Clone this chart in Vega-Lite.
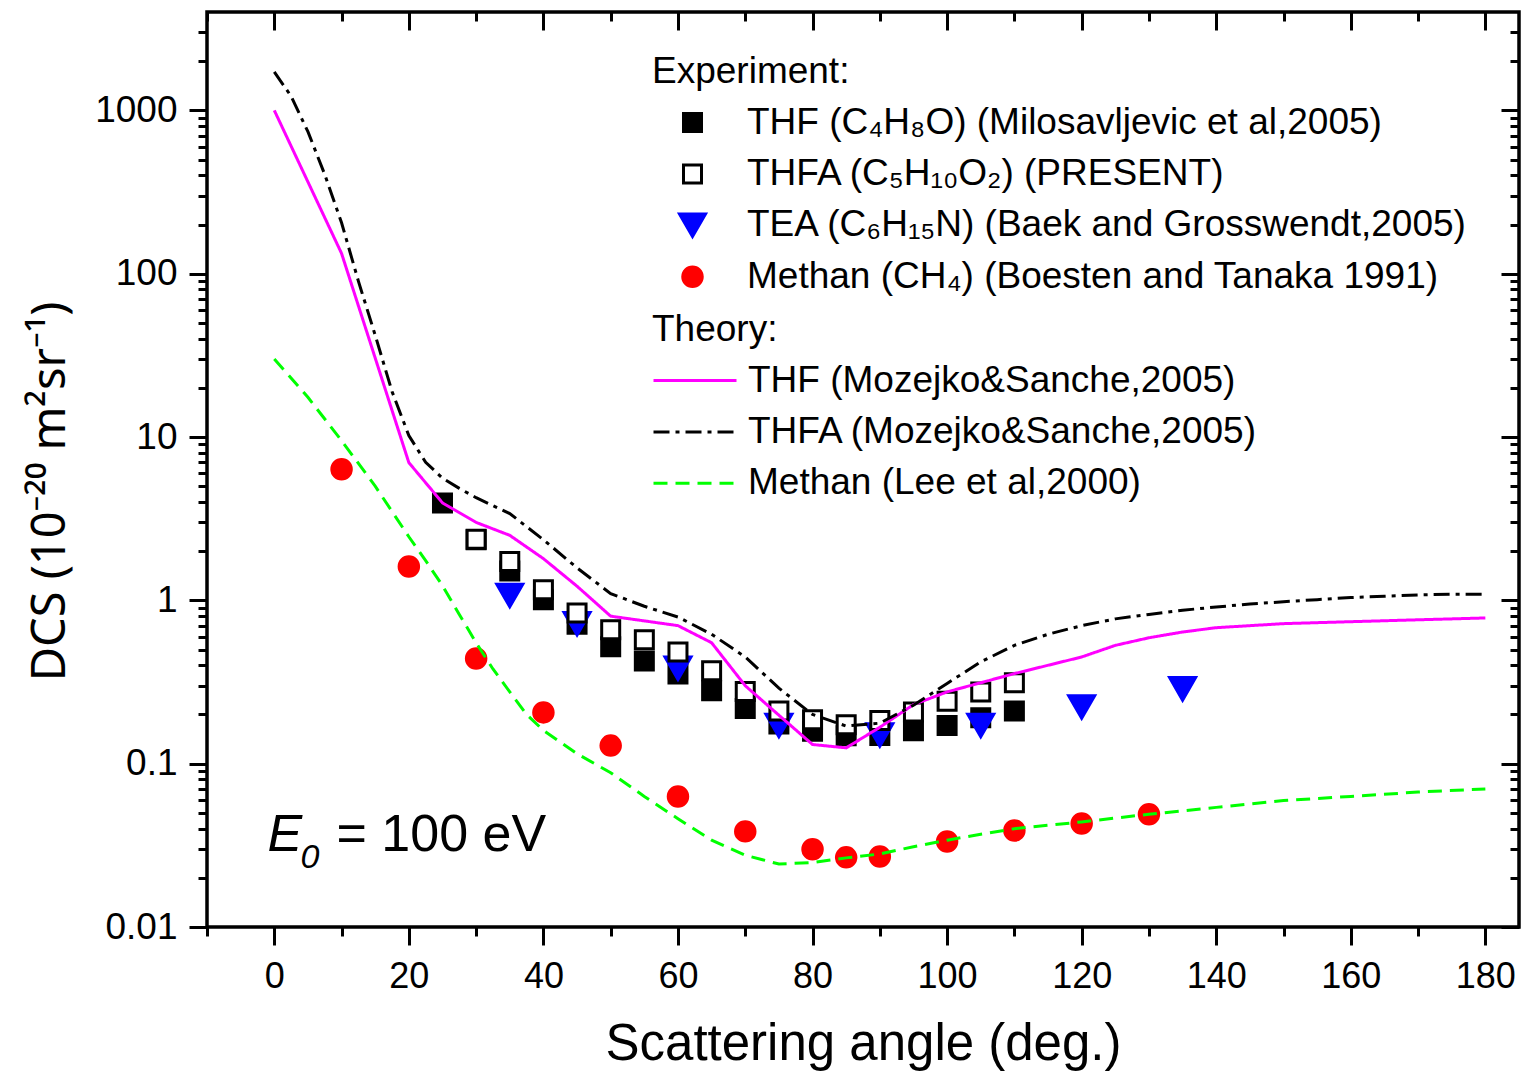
{
  "$schema": "https://vega.github.io/schema/vega-lite/v6.json",
  "width": 1312,
  "height": 915,
  "autosize": {"type": "none"},
  "padding": {"left": 207, "top": 12, "right": 7, "bottom": 149},
  "background": "white",
  "config": {
    "font": "Liberation Sans",
    "view": {"stroke": "#000000", "strokeWidth": 3.5},
    "axis": {
      "domain": false,
      "grid": false,
      "tickColor": "#000000",
      "tickWidth": 3,
      "labelColor": "#000000",
      "labelFont": "Liberation Sans",
      "titleFont": "Liberation Sans",
      "titleColor": "#000000",
      "titleFontWeight": "normal",
      "labelOverlap": false,
      "labelFlush": false
    },
    "legend": {
      "orient": "none",
      "padding": 0,
      "titleFont": "Liberation Sans",
      "titleFontSize": 37,
      "titleFontWeight": "normal",
      "titleColor": "#000000",
      "labelFont": "Liberation Sans",
      "labelFontSize": 37,
      "labelColor": "#000000",
      "labelLimit": 2000,
      "titleLimit": 2000
    }
  },
  "datasets": {
    "exp": [
      {"s": "THF", "a": 25, "v": 3.94},
      {"s": "THF", "a": 30, "v": 2.35},
      {"s": "THF", "a": 35, "v": 1.51},
      {"s": "THF", "a": 40, "v": 1.01},
      {"s": "THF", "a": 45, "v": 0.713},
      {"s": "THF", "a": 50, "v": 0.52},
      {"s": "THF", "a": 55, "v": 0.425},
      {"s": "THF", "a": 60, "v": 0.354},
      {"s": "THF", "a": 65, "v": 0.28},
      {"s": "THF", "a": 70, "v": 0.218},
      {"s": "THF", "a": 75, "v": 0.175},
      {"s": "THF", "a": 80, "v": 0.158},
      {"s": "THF", "a": 85, "v": 0.148},
      {"s": "THF", "a": 90, "v": 0.149},
      {"s": "THF", "a": 95, "v": 0.159},
      {"s": "THF", "a": 100, "v": 0.171},
      {"s": "THF", "a": 105, "v": 0.191},
      {"s": "THF", "a": 110, "v": 0.21},
      {"s": "TEA", "a": 35, "v": 1.07},
      {"s": "TEA", "a": 45, "v": 0.72},
      {"s": "TEA", "a": 60, "v": 0.384},
      {"s": "TEA", "a": 75, "v": 0.171},
      {"s": "TEA", "a": 90, "v": 0.15},
      {"s": "TEA", "a": 105, "v": 0.171},
      {"s": "TEA", "a": 120, "v": 0.222},
      {"s": "TEA", "a": 135, "v": 0.287},
      {"s": "THFA", "a": 30, "v": 2.37},
      {"s": "THFA", "a": 35, "v": 1.73},
      {"s": "THFA", "a": 40, "v": 1.16},
      {"s": "THFA", "a": 45, "v": 0.836},
      {"s": "THFA", "a": 50, "v": 0.66},
      {"s": "THFA", "a": 55, "v": 0.574},
      {"s": "THFA", "a": 60, "v": 0.483},
      {"s": "THFA", "a": 65, "v": 0.37},
      {"s": "THFA", "a": 70, "v": 0.277},
      {"s": "THFA", "a": 75, "v": 0.21},
      {"s": "THFA", "a": 80, "v": 0.186},
      {"s": "THFA", "a": 85, "v": 0.173},
      {"s": "THFA", "a": 90, "v": 0.184},
      {"s": "THFA", "a": 95, "v": 0.207},
      {"s": "THFA", "a": 100, "v": 0.241},
      {"s": "THFA", "a": 105, "v": 0.275},
      {"s": "THFA", "a": 110, "v": 0.313},
      {"s": "Methan", "a": 10, "v": 6.34},
      {"s": "Methan", "a": 20, "v": 1.61},
      {"s": "Methan", "a": 30, "v": 0.44},
      {"s": "Methan", "a": 40, "v": 0.206},
      {"s": "Methan", "a": 50, "v": 0.129},
      {"s": "Methan", "a": 60, "v": 0.063},
      {"s": "Methan", "a": 70, "v": 0.0385},
      {"s": "Methan", "a": 80, "v": 0.0299},
      {"s": "Methan", "a": 85, "v": 0.0267},
      {"s": "Methan", "a": 90, "v": 0.027},
      {"s": "Methan", "a": 100, "v": 0.0334},
      {"s": "Methan", "a": 110, "v": 0.039},
      {"s": "Methan", "a": 120, "v": 0.043},
      {"s": "Methan", "a": 130, "v": 0.049}
    ],
    "theory": [
      {"m": "THF", "a": 0, "v": 1000},
      {"m": "THF", "a": 10, "v": 133},
      {"m": "THF", "a": 20, "v": 6.97},
      {"m": "THF", "a": 25, "v": 3.95},
      {"m": "THF", "a": 30, "v": 3.0},
      {"m": "THF", "a": 35, "v": 2.5},
      {"m": "THF", "a": 40, "v": 1.8},
      {"m": "THF", "a": 45, "v": 1.22},
      {"m": "THF", "a": 50, "v": 0.8},
      {"m": "THF", "a": 60, "v": 0.7},
      {"m": "THF", "a": 65, "v": 0.55},
      {"m": "THF", "a": 70, "v": 0.3},
      {"m": "THF", "a": 75, "v": 0.198},
      {"m": "THF", "a": 80, "v": 0.131},
      {"m": "THF", "a": 85, "v": 0.125},
      {"m": "THF", "a": 90, "v": 0.167},
      {"m": "THF", "a": 95, "v": 0.23},
      {"m": "THF", "a": 100, "v": 0.275},
      {"m": "THF", "a": 105, "v": 0.313},
      {"m": "THF", "a": 110, "v": 0.356},
      {"m": "THF", "a": 120, "v": 0.45},
      {"m": "THF", "a": 125, "v": 0.53},
      {"m": "THF", "a": 130, "v": 0.59},
      {"m": "THF", "a": 135, "v": 0.64},
      {"m": "THF", "a": 140, "v": 0.68},
      {"m": "THF", "a": 150, "v": 0.72},
      {"m": "THF", "a": 160, "v": 0.74},
      {"m": "THF", "a": 170, "v": 0.76},
      {"m": "THF", "a": 180, "v": 0.78},
      {"m": "THFA", "a": 0, "v": 1720},
      {"m": "THFA", "a": 2.5, "v": 1220},
      {"m": "THFA", "a": 5, "v": 740},
      {"m": "THFA", "a": 7.5, "v": 405},
      {"m": "THFA", "a": 10, "v": 205},
      {"m": "THFA", "a": 12.5, "v": 90},
      {"m": "THFA", "a": 15, "v": 42},
      {"m": "THFA", "a": 17.5, "v": 19},
      {"m": "THFA", "a": 20, "v": 10.2},
      {"m": "THFA", "a": 22.5, "v": 7.0},
      {"m": "THFA", "a": 25, "v": 5.6},
      {"m": "THFA", "a": 27.5, "v": 4.85},
      {"m": "THFA", "a": 30, "v": 4.25},
      {"m": "THFA", "a": 35, "v": 3.4},
      {"m": "THFA", "a": 40, "v": 2.35},
      {"m": "THFA", "a": 45, "v": 1.58},
      {"m": "THFA", "a": 50, "v": 1.1},
      {"m": "THFA", "a": 55, "v": 0.92},
      {"m": "THFA", "a": 60, "v": 0.79},
      {"m": "THFA", "a": 65, "v": 0.62},
      {"m": "THFA", "a": 70, "v": 0.45},
      {"m": "THFA", "a": 75, "v": 0.29},
      {"m": "THFA", "a": 80, "v": 0.2},
      {"m": "THFA", "a": 85, "v": 0.17},
      {"m": "THFA", "a": 90, "v": 0.177},
      {"m": "THFA", "a": 95, "v": 0.228},
      {"m": "THFA", "a": 100, "v": 0.31},
      {"m": "THFA", "a": 105, "v": 0.42},
      {"m": "THFA", "a": 110, "v": 0.53},
      {"m": "THFA", "a": 115, "v": 0.62},
      {"m": "THFA", "a": 120, "v": 0.7},
      {"m": "THFA", "a": 125, "v": 0.77},
      {"m": "THFA", "a": 130, "v": 0.82},
      {"m": "THFA", "a": 135, "v": 0.87},
      {"m": "THFA", "a": 140, "v": 0.91},
      {"m": "THFA", "a": 145, "v": 0.95},
      {"m": "THFA", "a": 150, "v": 0.98},
      {"m": "THFA", "a": 155, "v": 1.01},
      {"m": "THFA", "a": 160, "v": 1.04},
      {"m": "THFA", "a": 165, "v": 1.06},
      {"m": "THFA", "a": 170, "v": 1.08},
      {"m": "THFA", "a": 175, "v": 1.09},
      {"m": "THFA", "a": 180, "v": 1.09},
      {"m": "Methan", "a": 0, "v": 30},
      {"m": "Methan", "a": 5, "v": 17.5},
      {"m": "Methan", "a": 10, "v": 9.5},
      {"m": "Methan", "a": 15, "v": 5.0},
      {"m": "Methan", "a": 20, "v": 2.45},
      {"m": "Methan", "a": 22.5, "v": 1.75},
      {"m": "Methan", "a": 25, "v": 1.23},
      {"m": "Methan", "a": 27.5, "v": 0.82},
      {"m": "Methan", "a": 30, "v": 0.55},
      {"m": "Methan", "a": 32.5, "v": 0.38},
      {"m": "Methan", "a": 35, "v": 0.275},
      {"m": "Methan", "a": 37.5, "v": 0.2},
      {"m": "Methan", "a": 40, "v": 0.16},
      {"m": "Methan", "a": 45, "v": 0.115},
      {"m": "Methan", "a": 50, "v": 0.088},
      {"m": "Methan", "a": 55, "v": 0.063},
      {"m": "Methan", "a": 60, "v": 0.046},
      {"m": "Methan", "a": 65, "v": 0.034},
      {"m": "Methan", "a": 70, "v": 0.0275},
      {"m": "Methan", "a": 75, "v": 0.0243},
      {"m": "Methan", "a": 80, "v": 0.0248},
      {"m": "Methan", "a": 85, "v": 0.0265},
      {"m": "Methan", "a": 90, "v": 0.028},
      {"m": "Methan", "a": 95, "v": 0.031},
      {"m": "Methan", "a": 100, "v": 0.034},
      {"m": "Methan", "a": 105, "v": 0.037},
      {"m": "Methan", "a": 110, "v": 0.04},
      {"m": "Methan", "a": 120, "v": 0.044},
      {"m": "Methan", "a": 130, "v": 0.049},
      {"m": "Methan", "a": 140, "v": 0.054},
      {"m": "Methan", "a": 150, "v": 0.0595},
      {"m": "Methan", "a": 160, "v": 0.063},
      {"m": "Methan", "a": 170, "v": 0.067},
      {"m": "Methan", "a": 180, "v": 0.07}
    ]
  },
  "layer": [
    {
      "data": {"name": "exp"},
      "mark": {"type": "point", "filled": true, "opacity": 1, "strokeWidth": 3},
      "encoding": {
        "x": {
          "field": "a", "type": "quantitative",
          "scale": {"domain": [-10, 185], "nice": false, "zero": false},
          "axis": {
            "orient": "bottom",
            "values": [-10, 0, 10, 20, 30, 40, 50, 60, 70, 80, 90, 100, 110, 120, 130, 140, 150, 160, 170, 180],
            "tickSize": {"condition": {"test": "datum.value % 20 === 0", "value": 18}, "value": 9},
            "labelExpr": "datum.value % 20 === 0 ? datum.label : ''",
            "labelFontSize": 36,
            "labelPadding": 14,
            "title": "Scattering angle (deg.)",
            "titleFontSize": 51,
            "titlePadding": 25
          }
        },
        "y": {
          "field": "v", "type": "quantitative",
          "scale": {"type": "log", "domain": [0.01, 4000], "nice": false},
          "axis": {
            "orient": "left",
            "values": [0.01, 0.02, 0.03, 0.04, 0.05, 0.06, 0.07, 0.08, 0.09, 0.1, 0.2, 0.3, 0.4, 0.5, 0.6, 0.7, 0.8, 0.9, 1, 2, 3, 4, 5, 6, 7, 8, 9, 10, 20, 30, 40, 50, 60, 70, 80, 90, 100, 200, 300, 400, 500, 600, 700, 800, 900, 1000, 2000, 3000],
            "tickSize": {"condition": {"test": "abs(log(datum.value)/LN10 - round(log(datum.value)/LN10)) < 0.001", "value": 18}, "value": 9},
            "labelExpr": "abs(log(datum.value)/LN10 - round(log(datum.value)/LN10)) < 0.001 ? '' + datum.value : ''",
            "labelFontSize": 37,
            "labelPadding": 12,
            "title": "DCS (10⁻²⁰ m²sr⁻¹)",
            "titleFont": "Noto Sans",
            "titleFontSize": 47,
            "titlePadding": 20,
            "titleY": 479
          }
        },
        "shape": {
          "field": "s", "type": "nominal",
          "scale": {"domain": ["THF", "THFA", "TEA", "Methan"], "range": ["square", "square", "triangle-down", "circle"]},
          "legend": {
            "title": "Experiment:",
            "orient": "none",
            "legendX": 445,
            "legendY": 42,
            "titlePadding": 13,
            "rowPadding": 13.4,
            "symbolOffset": 22,
            "labelOffset": 36,
            "symbolStrokeWidth": 3,
            "labelExpr": "datum.label === 'THF' ? 'THF (C₄H₈O) (Milosavljevic et al,2005)' : datum.label === 'THFA' ? 'THFA (C₅H₁₀O₂) (PRESENT)' : datum.label === 'TEA' ? 'TEA (C₆H₁₅N) (Baek and Grosswendt,2005)' : 'Methan (CH₄) (Boesten and Tanaka 1991)'"
          }
        },
        "fill": {
          "field": "s", "type": "nominal",
          "scale": {"domain": ["THF", "THFA", "TEA", "Methan"], "range": ["#000000", "#ffffff", "#0000ff", "#ff0000"]}
        },
        "stroke": {
          "field": "s", "type": "nominal",
          "scale": {"domain": ["THF", "THFA", "TEA", "Methan"], "range": ["#000000", "#000000", "#0000ff", "#ff0000"]}
        },
        "size": {
          "field": "s", "type": "nominal",
          "scale": {"type": "ordinal", "domain": ["THF", "THFA", "TEA", "Methan"], "range": [324, 324, 676, 380]}
        }
      }
    },
    {
      "data": {"name": "theory"},
      "mark": {"type": "line", "strokeWidth": 3, "interpolate": "linear"},
      "encoding": {
        "x": {
          "field": "a", "type": "quantitative",
          "axis": {
            "orient": "top",
            "values": [-10, 0, 10, 20, 30, 40, 50, 60, 70, 80, 90, 100, 110, 120, 130, 140, 150, 160, 170, 180],
            "tickSize": {"condition": {"test": "datum.value % 20 === 0", "value": -18}, "value": -9},
            "labels": false,
            "title": null
          }
        },
        "y": {
          "field": "v", "type": "quantitative",
          "axis": {
            "orient": "right",
            "values": [0.01, 0.02, 0.03, 0.04, 0.05, 0.06, 0.07, 0.08, 0.09, 0.1, 0.2, 0.3, 0.4, 0.5, 0.6, 0.7, 0.8, 0.9, 1, 2, 3, 4, 5, 6, 7, 8, 9, 10, 20, 30, 40, 50, 60, 70, 80, 90, 100, 200, 300, 400, 500, 600, 700, 800, 900, 1000, 2000, 3000],
            "tickSize": {"condition": {"test": "abs(log(datum.value)/LN10 - round(log(datum.value)/LN10)) < 0.001", "value": -18}, "value": -9},
            "labels": false,
            "title": null
          }
        },
        "color": {
          "field": "m", "type": "nominal",
          "scale": {"domain": ["THF", "THFA", "Methan"], "range": ["#ff00ff", "#000000", "#00ff00"]},
          "legend": {
            "title": "Theory:",
            "orient": "none",
            "legendX": 445,
            "legendY": 300,
            "titlePadding": 13,
            "rowPadding": 13.4,
            "clipHeight": 37,
            "symbolType": "stroke",
            "symbolSize": 6889,
            "symbolStrokeWidth": 3,
            "symbolOffset": 0,
            "labelOffset": 10,
            "labelExpr": "datum.label === 'THF' ? 'THF (Mozejko&Sanche,2005)' : datum.label === 'THFA' ? 'THFA (Mozejko&Sanche,2005)' : 'Methan (Lee et al,2000)'"
          }
        },
        "strokeDash": {
          "field": "m", "type": "nominal",
          "scale": {"domain": ["THF", "THFA", "Methan"], "range": [[1, 0], [16, 6, 4, 6], [14, 8]]}
        }
      }
    },
    {
      "data": {"values": [{}]},
      "mark": {"type": "text", "text": "E", "fontStyle": "italic", "fontSize": 52, "align": "left", "baseline": "alphabetic", "color": "#000000"},
      "encoding": {
        "x": {"datum": -1, "type": "quantitative", "axis": null},
        "y": {"datum": 0.0294, "type": "quantitative", "axis": null}
      }
    },
    {
      "data": {"values": [{}]},
      "mark": {"type": "text", "text": "0", "fontStyle": "italic", "fontSize": 34, "align": "left", "baseline": "alphabetic", "dx": 33, "dy": 17, "color": "#000000"},
      "encoding": {
        "x": {"datum": -1, "type": "quantitative", "axis": null},
        "y": {"datum": 0.0294, "type": "quantitative", "axis": null}
      }
    },
    {
      "data": {"values": [{}]},
      "mark": {"type": "text", "text": "= 100 eV", "fontSize": 52, "align": "left", "baseline": "alphabetic", "dx": 69, "color": "#000000"},
      "encoding": {
        "x": {"datum": -1, "type": "quantitative", "axis": null},
        "y": {"datum": 0.0294, "type": "quantitative", "axis": null}
      }
    }
  ],
  "resolve": {"axis": {"x": "independent", "y": "independent"}}
}
